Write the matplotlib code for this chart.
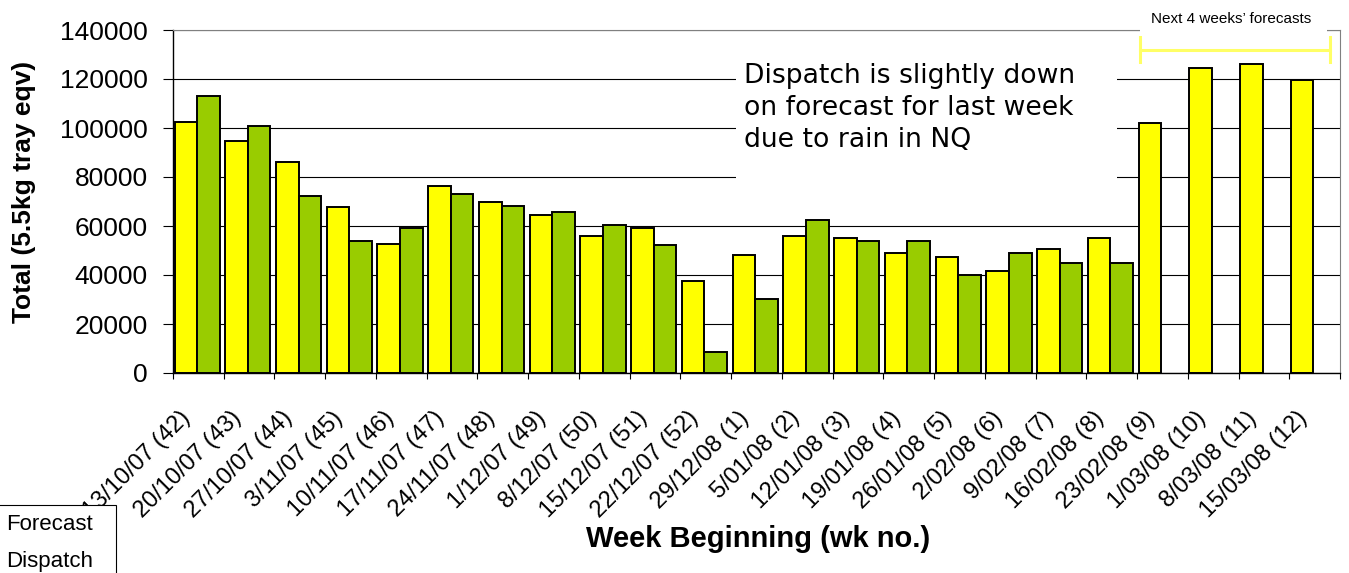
import matplotlib
matplotlib.use("Agg")
import matplotlib.pyplot as plt
import matplotlib.transforms as mtransforms
from matplotlib.patches import Rectangle
import numpy as np

plt.rcParams['font.family'] = ['Liberation Sans', 'DejaVu Sans']

# week labels
weeks = ['13/10/07 (42)', '20/10/07 (43)', '27/10/07 (44)', '3/11/07 (45)',
         '10/11/07 (46)', '17/11/07 (47)', '24/11/07 (48)', '1/12/07 (49)',
         '8/12/07 (50)', '15/12/07 (51)', '22/12/07 (52)', '29/12/08 (1)',
         '5/01/08 (2)', '12/01/08 (3)', '19/01/08 (4)', '26/01/08 (5)',
         '2/02/08 (6)', '9/02/08 (7)', '16/02/08 (8)', '23/02/08 (9)',
         '1/03/08 (10)', '8/03/08 (11)', '15/03/08 (12)']

forecast = [102600, 94600, 86300, 67600, 52800, 76500, 69900, 64400, 56000,
            59300, 37600, 48000, 56000, 55200, 48800, 47200, 41500, 50500,
            55200, 101900, 124500, 126100, 119500]

# no dispatch yet for the last 4 weeks
dispatch = [113200, 101000, 72400, 53700, 59300, 73200, 68300, 65900, 60400,
            52100, 8700, 30200, 62400, 53700, 53700, 39900, 48800, 44800,
            44800, np.nan, np.nan, np.nan, np.nan]

series_names = ['Forecast', 'Dispatch']
colors = ['#FFFF00', '#99CC00']

note = 'Dispatch is slightly down\non forecast for last week\ndue to rain in NQ'
next_note = 'Next 4 weeks\u2019 forecasts'

W, H = 1349, 573
fig = plt.figure(figsize=(W / 100, H / 100), dpi=100)
ax = fig.add_axes([173 / W, 1 - 373 / H, (1340 - 173) / W, (373 - 30) / H])

x = np.arange(len(weeks))
bw = 0.445
ax.bar(x - 0.2475, forecast, bw, color=colors[0], edgecolor='black',
       linewidth=1.4, zorder=2)
ax.bar(x + 0.1975, dispatch, bw, color=colors[1], edgecolor='black',
       linewidth=1.4, zorder=2)

ax.set_xlim(-0.5, len(weeks) - 0.5)
ax.set_ylim(0, 140000)
ax.set_yticks(np.arange(0, 140001, 20000))
ax.tick_params(axis='y', labelsize=19, length=7.2, width=0.8, pad=11)
ax.yaxis.grid(True, color='black', linewidth=0.8)
ax.set_axisbelow(True)

ax.set_xticks(x)
ax.set_xticklabels(weeks, rotation=45, ha='right', va='center',
                   rotation_mode='anchor', fontsize=17)
ax.set_xticks(np.arange(-0.5, len(weeks)), minor=True)
ax.tick_params(axis='x', which='major', length=0, pad=30)
ax.tick_params(axis='x', which='minor', length=4.5, width=0.8)
offset = mtransforms.ScaledTranslation(-11 / 100, 0, fig.dpi_scale_trans)
for lab in ax.get_xticklabels():
    lab.set_transform(lab.get_transform() + offset)

for s in ['top', 'right']:
    ax.spines[s].set_color('#808080')
for s in ['left', 'bottom']:
    ax.spines[s].set_color('black')
    ax.spines[s].set_linewidth(1.0)

# white text box over the grid
ax.add_patch(Rectangle((10.6, 76500), 7.5, 62500, facecolor='white',
                       edgecolor='none', zorder=1))
fig.text(744 / W, 1 - 147 / H, note, family='DejaVu Sans', fontsize=19.2,
         ha='left', va='baseline', linespacing=1.3)

# bracket for forecast weeks
ax.add_patch(Rectangle((18.56, 139000), 3.68, 8000, facecolor='white',
                       edgecolor='none', zorder=3, clip_on=False))
ax.plot([18.56, 22.3], [131800, 131800], color='#FFFF66', lw=2.2, zorder=4,
        clip_on=False)
for xe in [18.56, 22.3]:
    ax.plot([xe, xe], [126900, 137100], color='#FFFF66', lw=2.2, zorder=4,
            clip_on=False)
fig.text(1231 / W, 1 - 19 / H, next_note, fontsize=11, ha='center',
         va='center')

fig.text(24 / W, 1 - 192 / H, 'Total (5.5kg tray eqv)', rotation=90,
         fontsize=19, fontweight='bold', ha='center', va='center')
fig.text(758 / W, 1 - 539 / H, 'Week Beginning (wk no.)', fontsize=21,
         fontweight='bold', ha='center', va='center')

# legend box (partly off the left edge as in the source)
fig.patches.append(Rectangle((-20 / W, -20 / H), 136 / W, (H - 505 + 20) / H,
                             transform=fig.transFigure, facecolor='white',
                             edgecolor='black', linewidth=0.8))
fig.text(6 / W, 1 - 530 / H, series_names[0], fontsize=16, ha='left',
         va='baseline')
fig.text(6 / W, 1 - 567 / H, series_names[1], fontsize=16, ha='left',
         va='baseline')

fig.savefig('out.png', dpi=100)
